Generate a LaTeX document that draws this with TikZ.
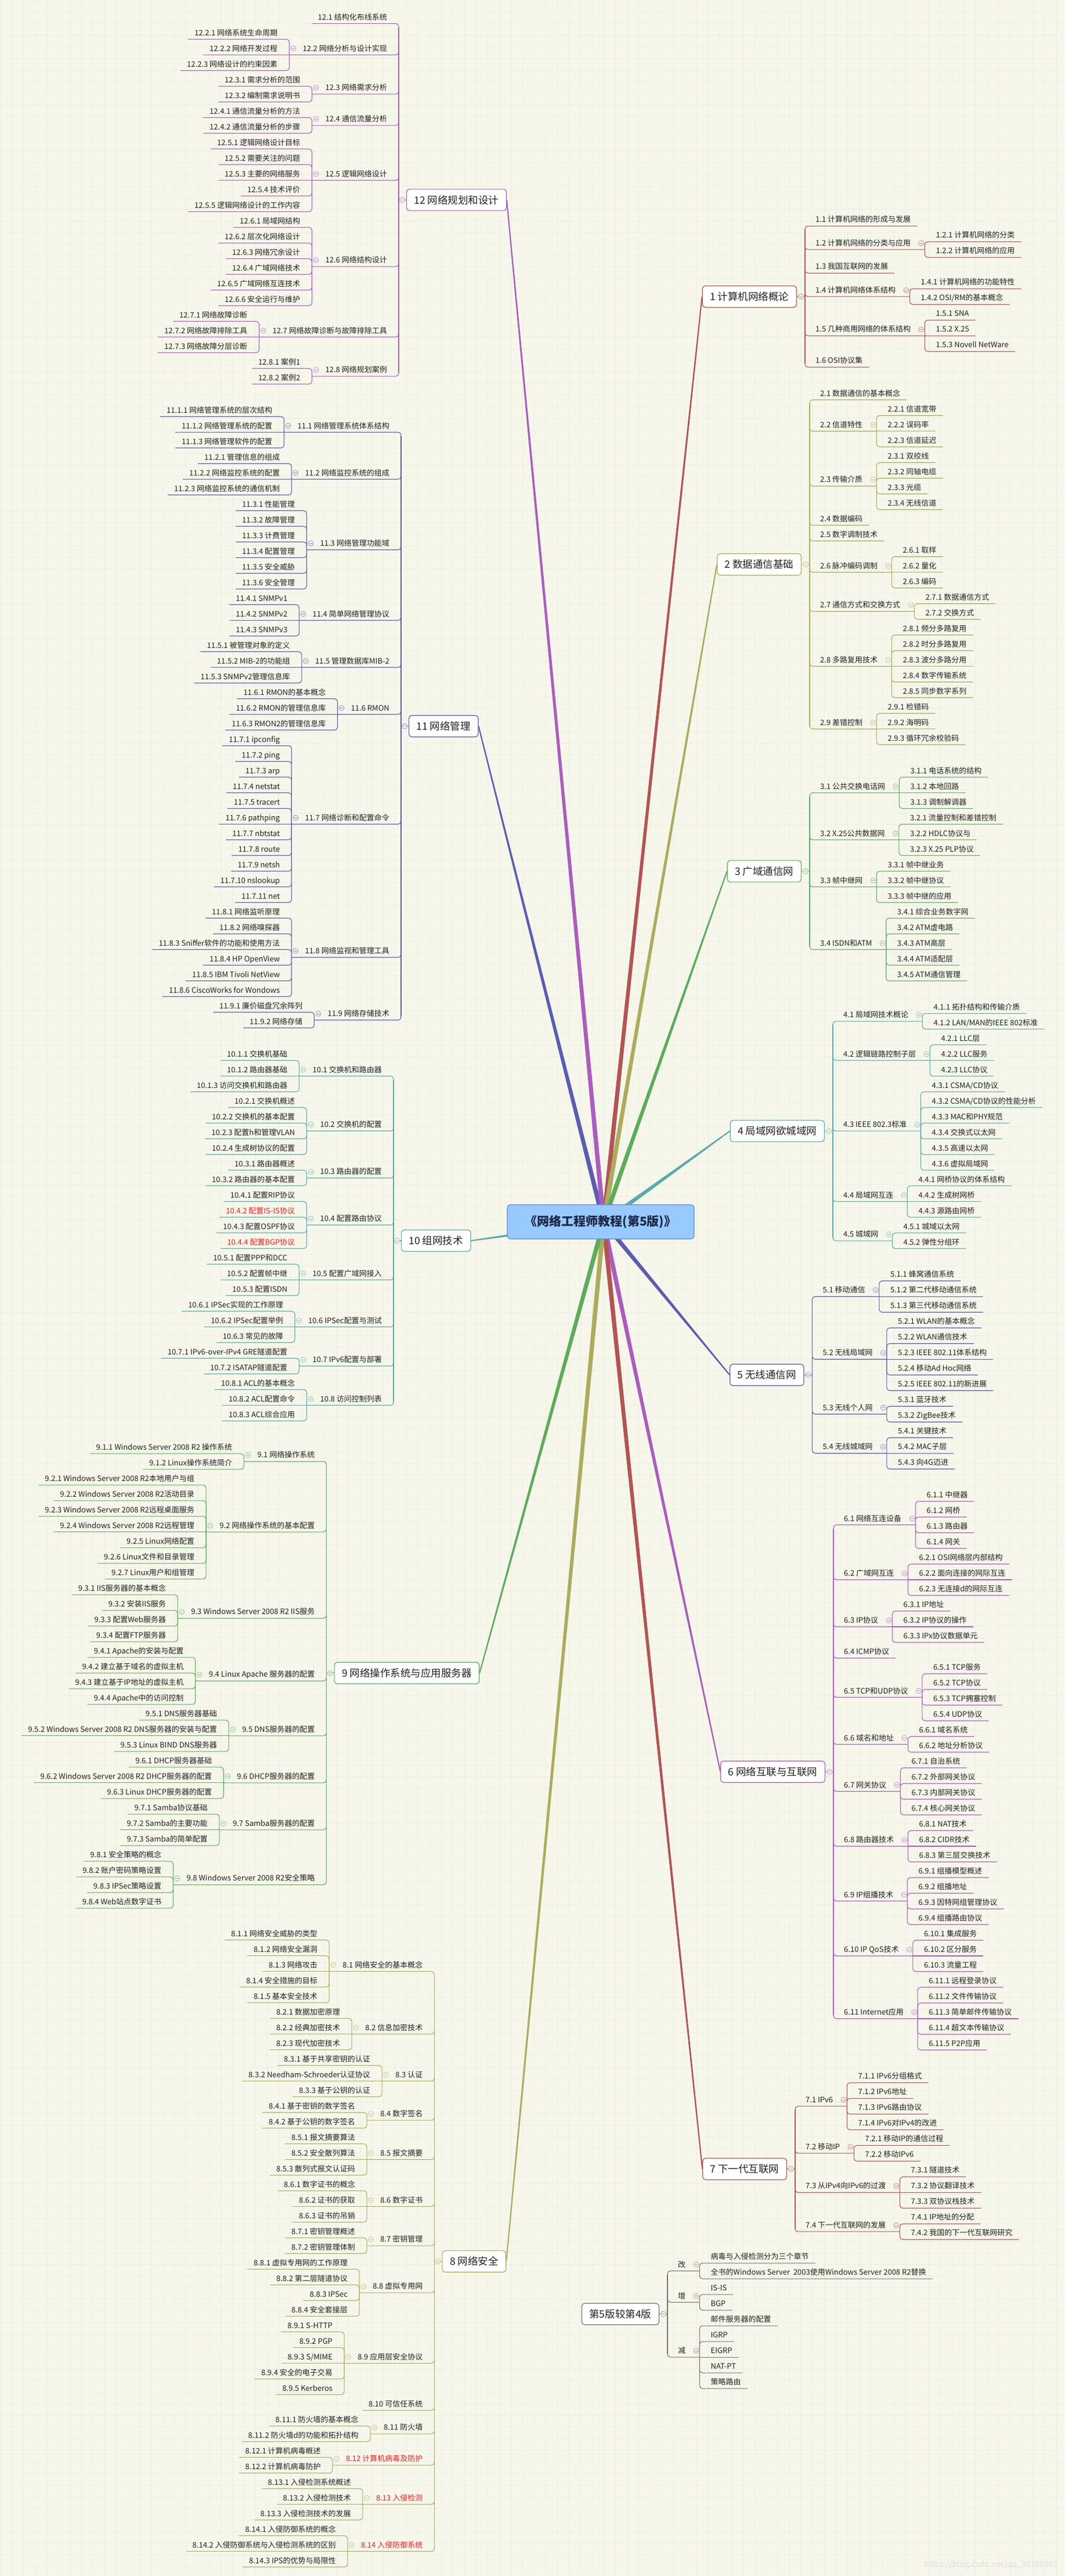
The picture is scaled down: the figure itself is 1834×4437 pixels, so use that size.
\documentclass[tikz,border=0pt]{standalone}
\usepackage{fontspec}
\setmainfont{Noto Sans CJK SC}
\usetikzlibrary{positioning,calc,backgrounds}
\definecolor{paper}{RGB}{246,247,234}
\definecolor{gridc}{RGB}{232,239,230}
\definecolor{ink}{RGB}{34,34,34}
\definecolor{hot}{RGB}{240,32,32}
\definecolor{cred}{RGB}{178,84,84}
\definecolor{colive}{RGB}{172,172,92}
\definecolor{cgreen}{RGB}{92,172,92}
\definecolor{cteal}{RGB}{92,170,172}
\definecolor{cblue}{RGB}{92,92,178}
\definecolor{cpurple}{RGB}{172,92,190}
\definecolor{cgrey}{RGB}{122,112,112}
\definecolor{rootfill}{RGB}{153,202,255}
\definecolor{rootline}{RGB}{86,140,214}
\definecolor{rootink}{RGB}{28,40,72}

\tikzset{
  leaf/.style={inner sep=0pt, text=ink, font=\fontsize{13}{13}\selectfont},
  sect/.style={leaf},
  chap/.style={draw, fill=white, rounded corners=5pt, line width=1.2pt, inner xsep=13pt, inner ysep=0pt,
    minimum height=37pt, text=ink, font=\fontsize{17.5}{17.5}\selectfont},
  root/.style={draw=rootline, fill=rootfill, rounded corners=6pt, line width=1.2pt, minimum width=322pt,
    minimum height=59pt, text=rootink, font=\fontsize{21}{21}\selectfont\bfseries},
  tog/.style={circle, draw=#1, fill=paper, line width=0.7pt, inner sep=0pt, minimum size=9pt,
    path picture={\draw[#1,line width=0.7pt] ([xshift=-2.3pt]path picture bounding box.center) -- ([xshift=2.3pt]path picture bounding box.center);}},
  link/.style={line width=1.1pt, rounded corners=5pt},
}

% running state: colour, bar x, next row y
\newcommand{\chapstart}[3]{\xdef\chcol{#1}\xdef\barx{#2}\xdef\rowy{#3}\xdef\isfirst{1}}
\newcommand{\barjoin}[1]{%
  \ifnum\isfirst=1
    \draw[link,\chcol] (\barx,\sy+6) -- (\barx,\sy) -- (#1);
    \xdef\firsty{\sy}\xdef\isfirst{0}%
  \else
    \draw[link,\chcol] (\barx,\sy-6) -- (\barx,\sy) -- (#1);
  \fi
  \xdef\lasty{\sy}}
\newcommand{\countleaves}[1]{\xdef\nleaf{0}\foreach \lbl in {#1}{\xdef\nleaf{\the\numexpr\nleaf+1\relax}}}

% sections to the right of the bar
\newcommand{\topR}[2]{%
  \pgfmathsetmacro\sy{\rowy}%
  \node[sect,anchor=base west] (s#1) at (\barx+18,\sy-6.5) {#2};
  \coordinate (e#1) at ([xshift=11pt]s#1.east |- 0,\sy);
  \barjoin{e#1}%
  \pgfmathsetmacro\rowy{\rowy+27}\xdef\rowy{\rowy}}
\newcommand{\secR}[3]{%
  \countleaves{#3}%
  \pgfmathsetmacro\sy{\rowy+(\nleaf-1)*13.5}%
  \node[sect,anchor=base west] (s#1) at (\barx+18,\sy-6.5) {#2};
  \coordinate (b#1) at ([xshift=24pt]s#1.east |- 0,\sy);
  \barjoin{b#1}%
  \node[tog=\chcol!75] (t#1) at ([xshift=18pt]s#1.east |- 0,\sy-11) {};
  \foreach \lbl [count=\idx] in {#3}{%
    \pgfmathsetmacro\ly{\rowy+(\idx-1)*27}%
    \pgfmathtruncatemacro\flat{abs(\ly-\sy)<0.5}%
    \node[leaf,anchor=base west] (l#1-\idx) at ([xshift=19pt]b#1 |- 0,\ly-6.5) {\lbl};
    \ifnum\flat=1
      \draw[link,\chcol] (b#1) -- ([xshift=11pt]l#1-\idx.east |- 0,\ly);
    \else
      \draw[link,\chcol] (b#1) -- (b#1 |- 0,\ly) -- ([xshift=11pt]l#1-\idx.east |- 0,\ly);
    \fi
  }%
  \pgfmathsetmacro\rowy{\rowy+\nleaf*27}\xdef\rowy{\rowy}}

% sections to the left of the bar
\newcommand{\topL}[2]{%
  \pgfmathsetmacro\sy{\rowy}%
  \node[sect,anchor=base east] (s#1) at (\barx-20,\sy-6.5) {#2};
  \coordinate (e#1) at ([xshift=-10pt]s#1.west |- 0,\sy);
  \barjoin{e#1}%
  \pgfmathsetmacro\rowy{\rowy+27}\xdef\rowy{\rowy}}
\newcommand{\secL}[3]{%
  \countleaves{#3}%
  \pgfmathsetmacro\sy{\rowy+(\nleaf-1)*13.5}%
  \node[sect,anchor=base east] (s#1) at (\barx-20,\sy-6.5) {#2};
  \coordinate (b#1) at ([xshift=-23pt]s#1.west |- 0,\sy);
  \barjoin{b#1}%
  \node[tog=\chcol!75] (t#1) at ([xshift=-16pt]s#1.west |- 0,\sy-11) {};
  \foreach \lbl [count=\idx] in {#3}{%
    \pgfmathsetmacro\ly{\rowy+(\idx-1)*27}%
    \pgfmathtruncatemacro\flat{abs(\ly-\sy)<0.5}%
    \node[leaf,anchor=base east] (l#1-\idx) at ([xshift=-20pt]b#1 |- 0,\ly-6.5) {\lbl};
    \ifnum\flat=1
      \draw[link,\chcol] (b#1) -- ([xshift=-11pt]l#1-\idx.west |- 0,\ly);
    \else
      \draw[link,\chcol] (b#1) -- (b#1 |- 0,\ly) -- ([xshift=-11pt]l#1-\idx.west |- 0,\ly);
    \fi
  }%
  \pgfmathsetmacro\rowy{\rowy+\nleaf*27}\xdef\rowy{\rowy}}

% chapter boxes
\newcommand{\chapendL}[2]{%
  \pgfmathsetmacro\cy{(\firsty+\lasty)/2}%
  \draw[\chcol,line width=1.1pt] (\barx,\firsty+6) -- (\barx,\lasty-6);
  \node[chap,draw=\chcol,anchor=west] (#1) at (\barx+13,\cy) {#2};
  \draw[\chcol,line width=1.1pt] (\barx,\cy) -- (#1.west);
  \node[tog=\chcol!75] (t#1) at ([xshift=-7pt]#1.west) {};}
\newcommand{\chapendR}[2]{%
  \pgfmathsetmacro\cy{(\firsty+\lasty)/2}%
  \draw[\chcol,line width=1.1pt] (\barx,\firsty+6) -- (\barx,\lasty-6);
  \node[chap,draw=\chcol,anchor=east] (#1) at (\barx-14,\cy) {#2};
  \draw[\chcol,line width=1.1pt] (#1.east) -- (\barx,\cy);
  \node[tog=\chcol!75] (t#1) at ([xshift=7pt]#1.east) {};}

\begin{document}
\begin{tikzpicture}[x=1pt,y=-1pt]
\useasboundingbox (0,0) rectangle (1834,4437);
\begin{scope}[on background layer]
  \fill[paper] (0,0) rectangle (1834,4437);
  \draw[gridc,line width=0.5pt,step=20pt] (0,0) grid (1834,4437);
\end{scope}

% 12
\chapstart{cpurple}{687}{40.6}
\topL{12-1}{12.1 结构化布线系统}
\secL{12-2}{12.2 网络分析与设计实现}{12.2.1 网络系统生命周期,12.2.2 网络开发过程,12.2.3 网络设计的约束因素}
\secL{12-3}{12.3 网络需求分析}{12.3.1 需求分析的范围,12.3.2 编制需求说明书}
\secL{12-4}{12.4 通信流量分析}{12.4.1 通信流量分析的方法,12.4.2 通信流量分析的步骤}
\secL{12-5}{12.5 逻辑网络设计}{12.5.1 逻辑网络设计目标,12.5.2 需要关注的问题,12.5.3 主要的网络服务,12.5.4 技术评价,12.5.5 逻辑网络设计的工作内容}
\secL{12-6}{12.6 网络结构设计}{12.6.1 局域网结构,12.6.2 层次化网络设计,12.6.3 网络冗余设计,12.6.4 广域网络技术,12.6.5 广域网络互连技术,12.6.6 安全运行与维护}
\secL{12-7}{12.7 网络故障诊断与故障排除工具}{12.7.1 网络故障诊断,12.7.2 网络故障排除工具,12.7.3 网络故障分层诊断}
\secL{12-8}{12.8 网络规划案例}{12.8.1 案例1,12.8.2 案例2}
\chapendL{c12}{12 网络规划和设计}

% 11
\chapstart{cblue}{691}{717.5}
\secL{11-1}{11.1 网络管理系统体系结构}{11.1.1 网络管理系统的层次结构,11.1.2 网络管理系统的配置,11.1.3 网络管理软件的配置}
\secL{11-2}{11.2 网络监控系统的组成}{11.2.1 管理信息的组成,11.2.2 网络监控系统的配置,11.2.3 网络监控系统的通信机制}
\secL{11-3}{11.3 网络管理功能域}{11.3.1 性能管理,11.3.2 故障管理,11.3.3 计费管理,11.3.4 配置管理,11.3.5 安全威胁,11.3.6 安全管理}
\secL{11-4}{11.4 简单网络管理协议}{11.4.1 SNMPv1,11.4.2 SNMPv2,11.4.3 SNMPv3}
\secL{11-5}{11.5 管理数据库MIB-2}{11.5.1 被管理对象的定义,11.5.2 MIB-2的功能组,11.5.3 SNMPv2管理信息库}
\secL{11-6}{11.6 RMON}{11.6.1 RMON的基本概念,11.6.2 RMON的管理信息库,11.6.3 RMON2的管理信息库}
\secL{11-7}{11.7 网络诊断和配置命令}{11.7.1 ipconfig,11.7.2 ping,11.7.3 arp,11.7.4 netstat,11.7.5 tracert,11.7.6 pathping,11.7.7 nbtstat,11.7.8 route,11.7.9 netsh,11.7.10 nslookup,11.7.11 net}
\secL{11-8}{11.8 网络监视和管理工具}{11.8.1 网络监听原理,11.8.2 网络嗅探器,11.8.3 Sniffer软件的功能和使用方法,11.8.4 HP OpenView,11.8.5 IBM Tivoli NetView,11.8.6 CiscoWorks for Wondows}
\secL{11-9}{11.9 网络存储技术}{11.9.1 廉价磁盘冗余阵列,11.9.2 网络存储}
\chapendL{c11}{11 网络管理}

% 10
\chapstart{cteal}{678}{1826.5}
\secL{10-1}{10.1 交换机和路由器}{10.1.1 交换机基础,10.1.2 路由器基础,10.1.3 访问交换机和路由器}
\secL{10-2}{10.2 交换机的配置}{10.2.1 交换机概述,10.2.2 交换机的基本配置,10.2.3 配置h和管理VLAN,10.2.4 生成树协议的配置}
\secL{10-3}{10.3 路由器的配置}{10.3.1 路由器概述,10.3.2 路由器的基本配置}
\secL{10-4}{10.4 配置路由协议}{10.4.1 配置RIP协议,\textcolor{hot}{10.4.2 配置IS-IS协议},10.4.3 配置OSPF协议,\textcolor{hot}{10.4.4 配置BGP协议}}
\secL{10-5}{10.5 配置广域网接入}{10.5.1 配置PPP和DCC,10.5.2 配置帧中继,10.5.3 配置ISDN}
\secL{10-6}{10.6 IPSec配置与测试}{10.6.1 IPSec实现的工作原理,10.6.2 IPSec配置举例,10.6.3 常见的故障}
\secL{10-7}{10.7 IPv6配置与部署}{10.7.1 IPv6-over-IPv4 GRE隧道配置,10.7.2 ISATAP隧道配置}
\secL{10-8}{10.8 访问控制列表}{10.8.1 ACL的基本概念,10.8.2 ACL配置命令,10.8.3 ACL综合应用}
\chapendL{c10}{10 组网技术}

% 9
\chapstart{cgreen}{562.5}{2503.8}
\secL{9-1}{9.1 网络操作系统}{9.1.1 Windows Server 2008 R2 操作系统,9.1.2 Linux操作系统简介}
\secL{9-2}{9.2 网络操作系统的基本配置}{9.2.1 Windows Server 2008 R2本地用户与组,9.2.2 Windows Server 2008 R2活动目录,9.2.3 Windows Server 2008 R2远程桌面服务,9.2.4 Windows Server 2008 R2远程管理,9.2.5 Linux网络配置,9.2.6 Linux文件和目录管理,9.2.7 Linux用户和组管理}
\secL{9-3}{9.3 Windows Server 2008 R2 IIS服务}{9.3.1 IIS服务器的基本概念,9.3.2 安装IIS服务,9.3.3 配置Web服务器,9.3.4 配置FTP服务器}
\secL{9-4}{9.4 Linux Apache 服务器的配置}{9.4.1 Apache的安装与配置,9.4.2 建立基于域名的虚拟主机,9.4.3 建立基于IP地址的虚拟主机,9.4.4 Apache中的访问控制}
\secL{9-5}{9.5 DNS服务器的配置}{9.5.1 DNS服务器基础,9.5.2 Windows Server 2008 R2 DNS服务器的安装与配置,9.5.3 Linux BIND DNS服务器}
\secL{9-6}{9.6 DHCP服务器的配置}{9.6.1 DHCP服务器基础,9.6.2 Windows Server 2008 R2 DHCP服务器的配置,9.6.3 Linux DHCP服务器的配置}
\secL{9-7}{9.7 Samba服务器的配置}{9.7.1 Samba协议基础,9.7.2 Samba的主要功能,9.7.3 Samba的简单配置}
\secL{9-8}{9.8 Windows Server 2008 R2安全策略}{9.8.1 安全策略的概念,9.8.2 账户密码策略设置,9.8.3 IPSec策略设置,9.8.4 Web站点数字证书}
\chapendL{c9}{9 网络操作系统与应用服务器}

% 8
\chapstart{colive}{748.5}{3341.6}
\secL{8-1}{8.1 网络安全的基本概念}{8.1.1 网络安全威胁的类型,8.1.2 网络安全漏洞,8.1.3 网络攻击,8.1.4 安全措施的目标,8.1.5 基本安全技术}
\secL{8-2}{8.2 信息加密技术}{8.2.1 数据加密原理,8.2.2 经典加密技术,8.2.3 现代加密技术}
\secL{8-3}{8.3 认证}{8.3.1 基于共享密钥的认证,8.3.2 Needham-Schroeder认证协议,8.3.3 基于公钥的认证}
\secL{8-4}{8.4 数字签名}{8.4.1 基于密钥的数字签名,8.4.2 基于公钥的数字签名}
\secL{8-5}{8.5 报文摘要}{8.5.1 报文摘要算法,8.5.2 安全散列算法,8.5.3 散列式报文认证码}
\secL{8-6}{8.6 数字证书}{8.6.1 数字证书的概念,8.6.2 证书的获取,8.6.3 证书的吊销}
\secL{8-7}{8.7 密钥管理}{8.7.1 密钥管理概述,8.7.2 密钥管理体制}
\secL{8-8}{8.8 虚拟专用网}{8.8.1 虚拟专用网的工作原理,8.8.2 第二层隧道协议,8.8.3 IPSec,8.8.4 安全套接层}
\secL{8-9}{8.9 应用层安全协议}{8.9.1 S-HTTP,8.9.2 PGP,8.9.3 S/MIME,8.9.4 安全的电子交易,8.9.5 Kerberos}
\topL{8-10}{8.10 可信任系统}
\secL{8-11}{8.11 防火墙}{8.11.1 防火墙的基本概念,8.11.2 防火墙d的功能和拓扑结构}
\secL{8-12}{\textcolor{hot}{8.12 计算机病毒及防护}}{8.12.1 计算机病毒概述,8.12.2 计算机病毒防护}
\secL{8-13}{\textcolor{hot}{8.13 入侵检测}}{8.13.1 入侵检测系统概述,8.13.2 入侵检测技术,8.13.3 入侵检测技术的发展}
\secL{8-14}{\textcolor{hot}{8.14 入侵防御系统}}{8.14.1 入侵防御系统的概念,8.14.2 入侵防御系统与入侵检测系统的区别,8.14.3 IPS的优势与局限性}
\chapendL{c8}{8 网络安全}

% 1
\chapstart{cred}{1387}{389.4}
\topR{1-1}{1.1 计算机网络的形成与发展}
\secR{1-2}{1.2 计算机网络的分类与应用}{1.2.1 计算机网络的分类,1.2.2 计算机网络的应用}
\topR{1-3}{1.3 我国互联网的发展}
\secR{1-4}{1.4 计算机网络体系结构}{1.4.1 计算机网络的功能特性,1.4.2 OSI/RM的基本概念}
\secR{1-5}{1.5 几种商用网络的体系结构}{1.5.1 SNA,1.5.2 X.25,1.5.3 Novell NetWare}
\topR{1-6}{1.6 OSI协议集}
\chapendR{c1}{1 计算机网络概论}

% 2
\chapstart{colive}{1395}{688.7}
\topR{2-1}{2.1 数据通信的基本概念}
\secR{2-2}{2.2 信道特性}{2.2.1 信道宽带,2.2.2 误码率,2.2.3 信道延迟}
\secR{2-3}{2.3 传输介质}{2.3.1 双绞线,2.3.2 同轴电缆,2.3.3 光缆,2.3.4 无线信道}
\topR{2-4}{2.4 数据编码}
\topR{2-5}{2.5 数字调制技术}
\secR{2-6}{2.6 脉冲编码调制}{2.6.1 取样,2.6.2 量化,2.6.3 编码}
\secR{2-7}{2.7 通信方式和交换方式}{2.7.1 数据通信方式,2.7.2 交换方式}
\secR{2-8}{2.8 多路复用技术}{2.8.1 频分多路复用,2.8.2 时分多路复用,2.8.3 波分多路分用,2.8.4 数字传输系统,2.8.5 同步数字系列}
\secR{2-9}{2.9 差错控制}{2.9.1 检错码,2.9.2 海明码,2.9.3 循环冗余校验码}
\chapendR{c2}{2 数据通信基础}

% 3
\chapstart{cgreen}{1395}{1338.6}
\secR{3-1}{3.1 公共交换电话网}{3.1.1 电话系统的结构,3.1.2 本地回路,3.1.3 调制解调器}
\secR{3-2}{3.2 X.25公共数据网}{3.2.1 流量控制和差错控制,3.2.2 HDLC协议与,3.2.3 X.25 PLP协议}
\secR{3-3}{3.3 帧中继网}{3.3.1 帧中继业务,3.3.2 帧中继协议,3.3.3 帧中继的应用}
\secR{3-4}{3.4 ISDN和ATM}{3.4.1 综合业务数字网,3.4.2 ATM虚电路,3.4.3 ATM高层,3.4.4 ATM适配层,3.4.5 ATM通信管理}
\chapendR{c3}{3 广域通信网}

% 4
\chapstart{cteal}{1435}{1745.6}
\secR{4-1}{4.1 局域网技术概论}{4.1.1 拓扑结构和传输介质,4.1.2 LAN/MAN的IEEE 802标准}
\secR{4-2}{4.2 逻辑链路控制子层}{4.2.1 LLC层,4.2.2 LLC服务,4.2.3 LLC协议}
\secR{4-3}{4.3 IEEE 802.3标准}{4.3.1 CSMA/CD协议,4.3.2 CSMA/CD协议的性能分析,4.3.3 MAC和PHY规范,4.3.4 交换式以太网,4.3.5 高速以太网,4.3.6 虚拟局域网}
\secR{4-4}{4.4 局域网互连}{4.4.1 网桥协议的体系结构,4.4.2 生成树网桥,4.4.3 源路由网桥}
\secR{4-5}{4.5 城域网}{4.5.1 城域以太网,4.5.2 弹性分组环}
\chapendR{c4}{4 局域网欲城域网}

% 5
\chapstart{cblue}{1399.5}{2206.2}
\secR{5-1}{5.1 移动通信}{5.1.1 蜂窝通信系统,5.1.2 第二代移动通信系统,5.1.3 第三代移动通信系统}
\secR{5-2}{5.2 无线局域网}{5.2.1 WLAN的基本概念,5.2.2 WLAN通信技术,5.2.3 IEEE 802.11体系结构,5.2.4 移动Ad Hoc网络,5.2.5 IEEE 802.11的新进展}
\secR{5-3}{5.3 无线个人网}{5.3.1 蓝牙技术,5.3.2 ZigBee技术}
\secR{5-4}{5.4 无线城域网}{5.4.1 关键技术,5.4.2 MAC子层,5.4.3 向4G迈进}
\chapendR{c5}{5 无线通信网}

% 6
\chapstart{cpurple}{1436}{2586}
\secR{6-1}{6.1 网络互连设备}{6.1.1 中继器,6.1.2 网桥,6.1.3 路由器,6.1.4 网关}
\secR{6-2}{6.2 广域网互连}{6.2.1 OSI网络层内部结构,6.2.2 面向连接的网际互连,6.2.3 无连接d的网际互连}
\secR{6-3}{6.3 IP协议}{6.3.1 IP地址,6.3.2 IP协议的操作,6.3.3 IPx协议数据单元}
\topR{6-4}{6.4 ICMP协议}
\secR{6-5}{6.5 TCP和UDP协议}{6.5.1 TCP服务,6.5.2 TCP协议,6.5.3 TCP拥塞控制,6.5.4 UDP协议}
\secR{6-6}{6.6 域名和地址}{6.6.1 域名系统,6.6.2 地址分析协议}
\secR{6-7}{6.7 网关协议}{6.7.1 自治系统,6.7.2 外部网关协议,6.7.3 内部网关协议,6.7.4 核心网关协议}
\secR{6-8}{6.8 路由器技术}{6.8.1 NAT技术,6.8.2 CIDR技术,6.8.3 第三层交换技术}
\secR{6-9}{6.9 IP组播技术}{6.9.1 组播模型概述,6.9.2 组播地址,6.9.3 因特网组管理协议,6.9.4 组播路由协议}
\secR{6-10}{6.10 IP QoS技术}{6.10.1 集成服务,6.10.2 区分服务,6.10.3 流量工程}
\secR{6-11}{6.11 Internet应用}{6.11.1 远程登录协议,6.11.2 文件传输协议,6.11.3 简单邮件传输协议,6.11.4 超文本传输协议,6.11.5 P2P应用}
\chapendR{c6}{6 网络互联与互联网}

% 7
\chapstart{cred}{1370}{3587.4}
\secR{7-1}{7.1 IPv6}{7.1.1 IPv6分组格式,7.1.2 IPv6地址,7.1.3 IPv6路由协议,7.1.4 IPv6对IPv4的改进}
\secR{7-2}{7.2 移动IP}{7.2.1 移动IP的通信过程,7.2.2 移动IPv6}
\secR{7-3}{7.3 从IPv4向IPv6的过渡}{7.3.1 隧道技术,7.3.2 协议翻译技术,7.3.3 双协议栈技术}
\secR{7-4}{7.4 下一代互联网的发展}{7.4.1 IP地址的分配,7.4.2 我国的下一代互联网研究}
\chapendR{c7}{7 下一代互联网}

% 5th vs 4th edition
\chapstart{cgrey}{1150}{3898}
\secR{v-1}{改}{病毒与入侵检测分为三个章节,全书的Windows Server\ \ 2003使用Windows Server 2008 R2替换}
\secR{v-2}{增}{IS-IS,BGP}
\secR{v-3}{减}{邮件服务器的配置,IGRP,EIGRP,NAT-PT,策略路由}
\chapendR{cv}{第5版较第4版}

% root
\coordinate (o) at (1040,2105);
\node[root] (root) at (1035,2104.5) {《网络工程师教程(第5版)》};
\begin{scope}[on background layer]
  \foreach \c/\cc in {c1/cred,c2/colive,c3/cgreen,c4/cteal,c5/cblue,c6/cpurple,c7/cred}
    \fill[\cc] ($(o)!4pt!90:(\c.west)$) -- ($(\c.west)!1pt!-90:(o)$) -- ($(\c.west)!1pt!90:(o)$) -- ($(o)!4pt!-90:(\c.west)$) -- cycle;
  \foreach \c/\cc in {c8/colive,c9/cgreen,c10/cteal,c11/cblue,c12/cpurple}
    \fill[\cc] ($(o)!4pt!90:(\c.east)$) -- ($(\c.east)!1pt!-90:(o)$) -- ($(\c.east)!1pt!90:(o)$) -- ($(o)!4pt!-90:(\c.east)$) -- cycle;
\end{scope}

\node[anchor=east, text=black!13, font=\fontsize{14}{14}\selectfont] (wm) at (1826,4418) {https://blog.csdn.net/qq\_38768365};
\end{tikzpicture}
\end{document}
